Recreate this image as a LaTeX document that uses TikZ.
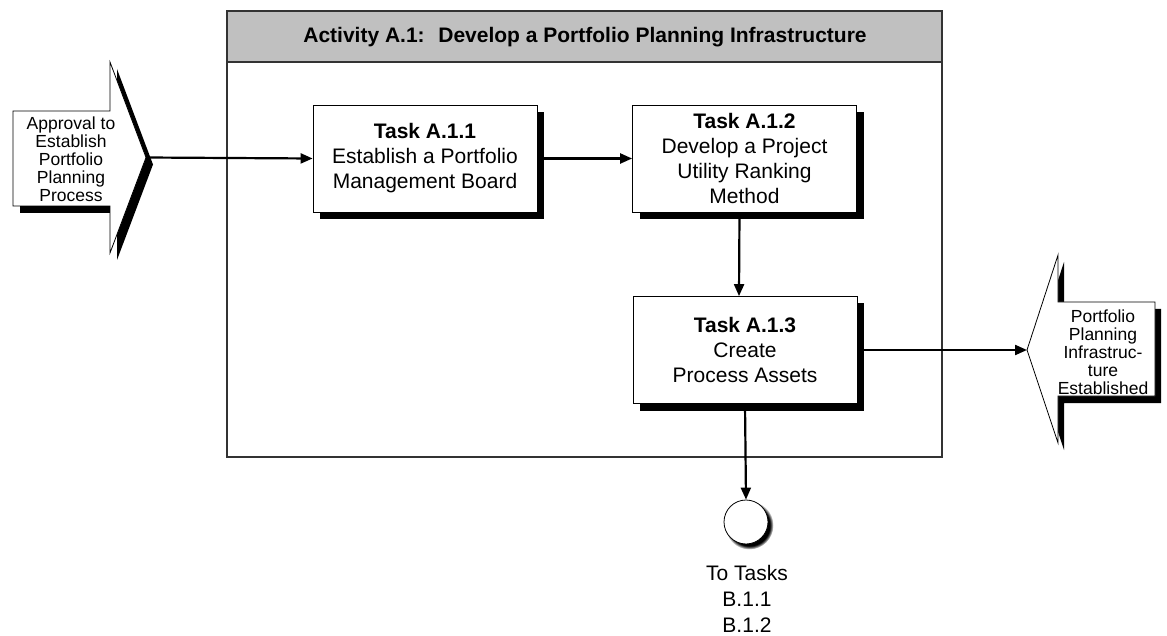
\documentclass[tikz,border=0pt]{standalone}
\usepackage{fontspec}
\setmainfont{Liberation Sans}
\usetikzlibrary{arrows.meta,shadows}
\definecolor{headgray}{HTML}{C0C0C0}
\begin{document}
\begin{tikzpicture}[x=1pt,y=-1pt,
  taskbox/.style={draw, line width=0.8pt, fill=white, minimum width=224pt, minimum height=107pt,
    align=center, font=\fontsize{21}{25}\selectfont,
    drop shadow={shadow xshift=7pt, shadow yshift=-7pt, fill=black, opacity=1}},
  conn/.style={line width=2.2pt, -{Triangle[length=12pt,width=10pt]}},
  shapetext/.style={align=center, font=\fontsize{17.5}{18}\selectfont, inner sep=0pt}]
\useasboundingbox (0,0) rectangle (1167,636);
% activity frame
\draw[line width=1.2pt, draw=black!80, fill=white] (227,11) rectangle (942,457);
\draw[line width=1.2pt, draw=black!80, fill=headgray] (227,11) rectangle (942,62);
\node[font=\bfseries\fontsize{21}{25}\selectfont] (title) at (585,37) {Activity A.1:~ Develop a Portfolio Planning Infrastructure};
% input arrow
\fill[shift={(7,7)}] (13,111) -- (110,111) -- (110,62) -- (146,157.5) -- (110,253) -- (110,206) -- (13,206) -- cycle;
\draw[line width=0.8pt, fill=white] (13,111) -- (110,111) -- (110,62) -- (146,157.5) -- (110,253) -- (110,206) -- (13,206) -- cycle;
\coordinate (inTip) at (146,157.5);
\node[shapetext] (inText) at (71,159) {Approval to\\Establish\\Portfolio\\Planning\\Process};
% output arrow
\fill[shift={(6,7)}] (1027,350) -- (1058,255) -- (1058,302) -- (1155,302) -- (1155,396) -- (1058,396) -- (1058,443) -- cycle;
\draw[line width=0.8pt, fill=white] (1027,350) -- (1058,255) -- (1058,302) -- (1155,302) -- (1155,396) -- (1058,396) -- (1058,443) -- cycle;
\coordinate (outTip) at (1027,350);
\node[shapetext] (outText) at (1103,352) {Portfolio\\Planning\\Infrastruc-\\ture\\Established};
% tasks
\node[taskbox] (task1) at (425,158.5) {\textbf{Task A.1.1}\\Establish a Portfolio\\Management Board};
\node[taskbox] (task2) at (744.5,158.5) {\textbf{Task A.1.2}\\Develop a Project\\Utility Ranking\\Method};
\node[taskbox] (task3) at (745,350) {\textbf{Task A.1.3}\\Create\\Process Assets};
% connector to next tasks
\node[circle, draw, line width=0.8pt, fill=white, minimum size=44pt, inner sep=0pt,
  circular drop shadow={shadow xshift=3pt, shadow yshift=-3pt, fill=black, opacity=1}] (endpt) at (746,522) {};
\node[align=center, font=\fontsize{21}{26}\selectfont] (toText) at (747,599) {To Tasks\\B.1.1\\B.1.2};
\draw[conn] (inTip) -- (task1.west);
\draw[conn] (task1.east) -- (task2.west);
\draw[conn] ([xshift=-5pt]task2.south) -- ([xshift=-6pt]task3.north);
\draw[conn] (task3.east) -- (outTip);
\draw[conn] (task3.south) -- (endpt.north);
\end{tikzpicture}
\end{document}
